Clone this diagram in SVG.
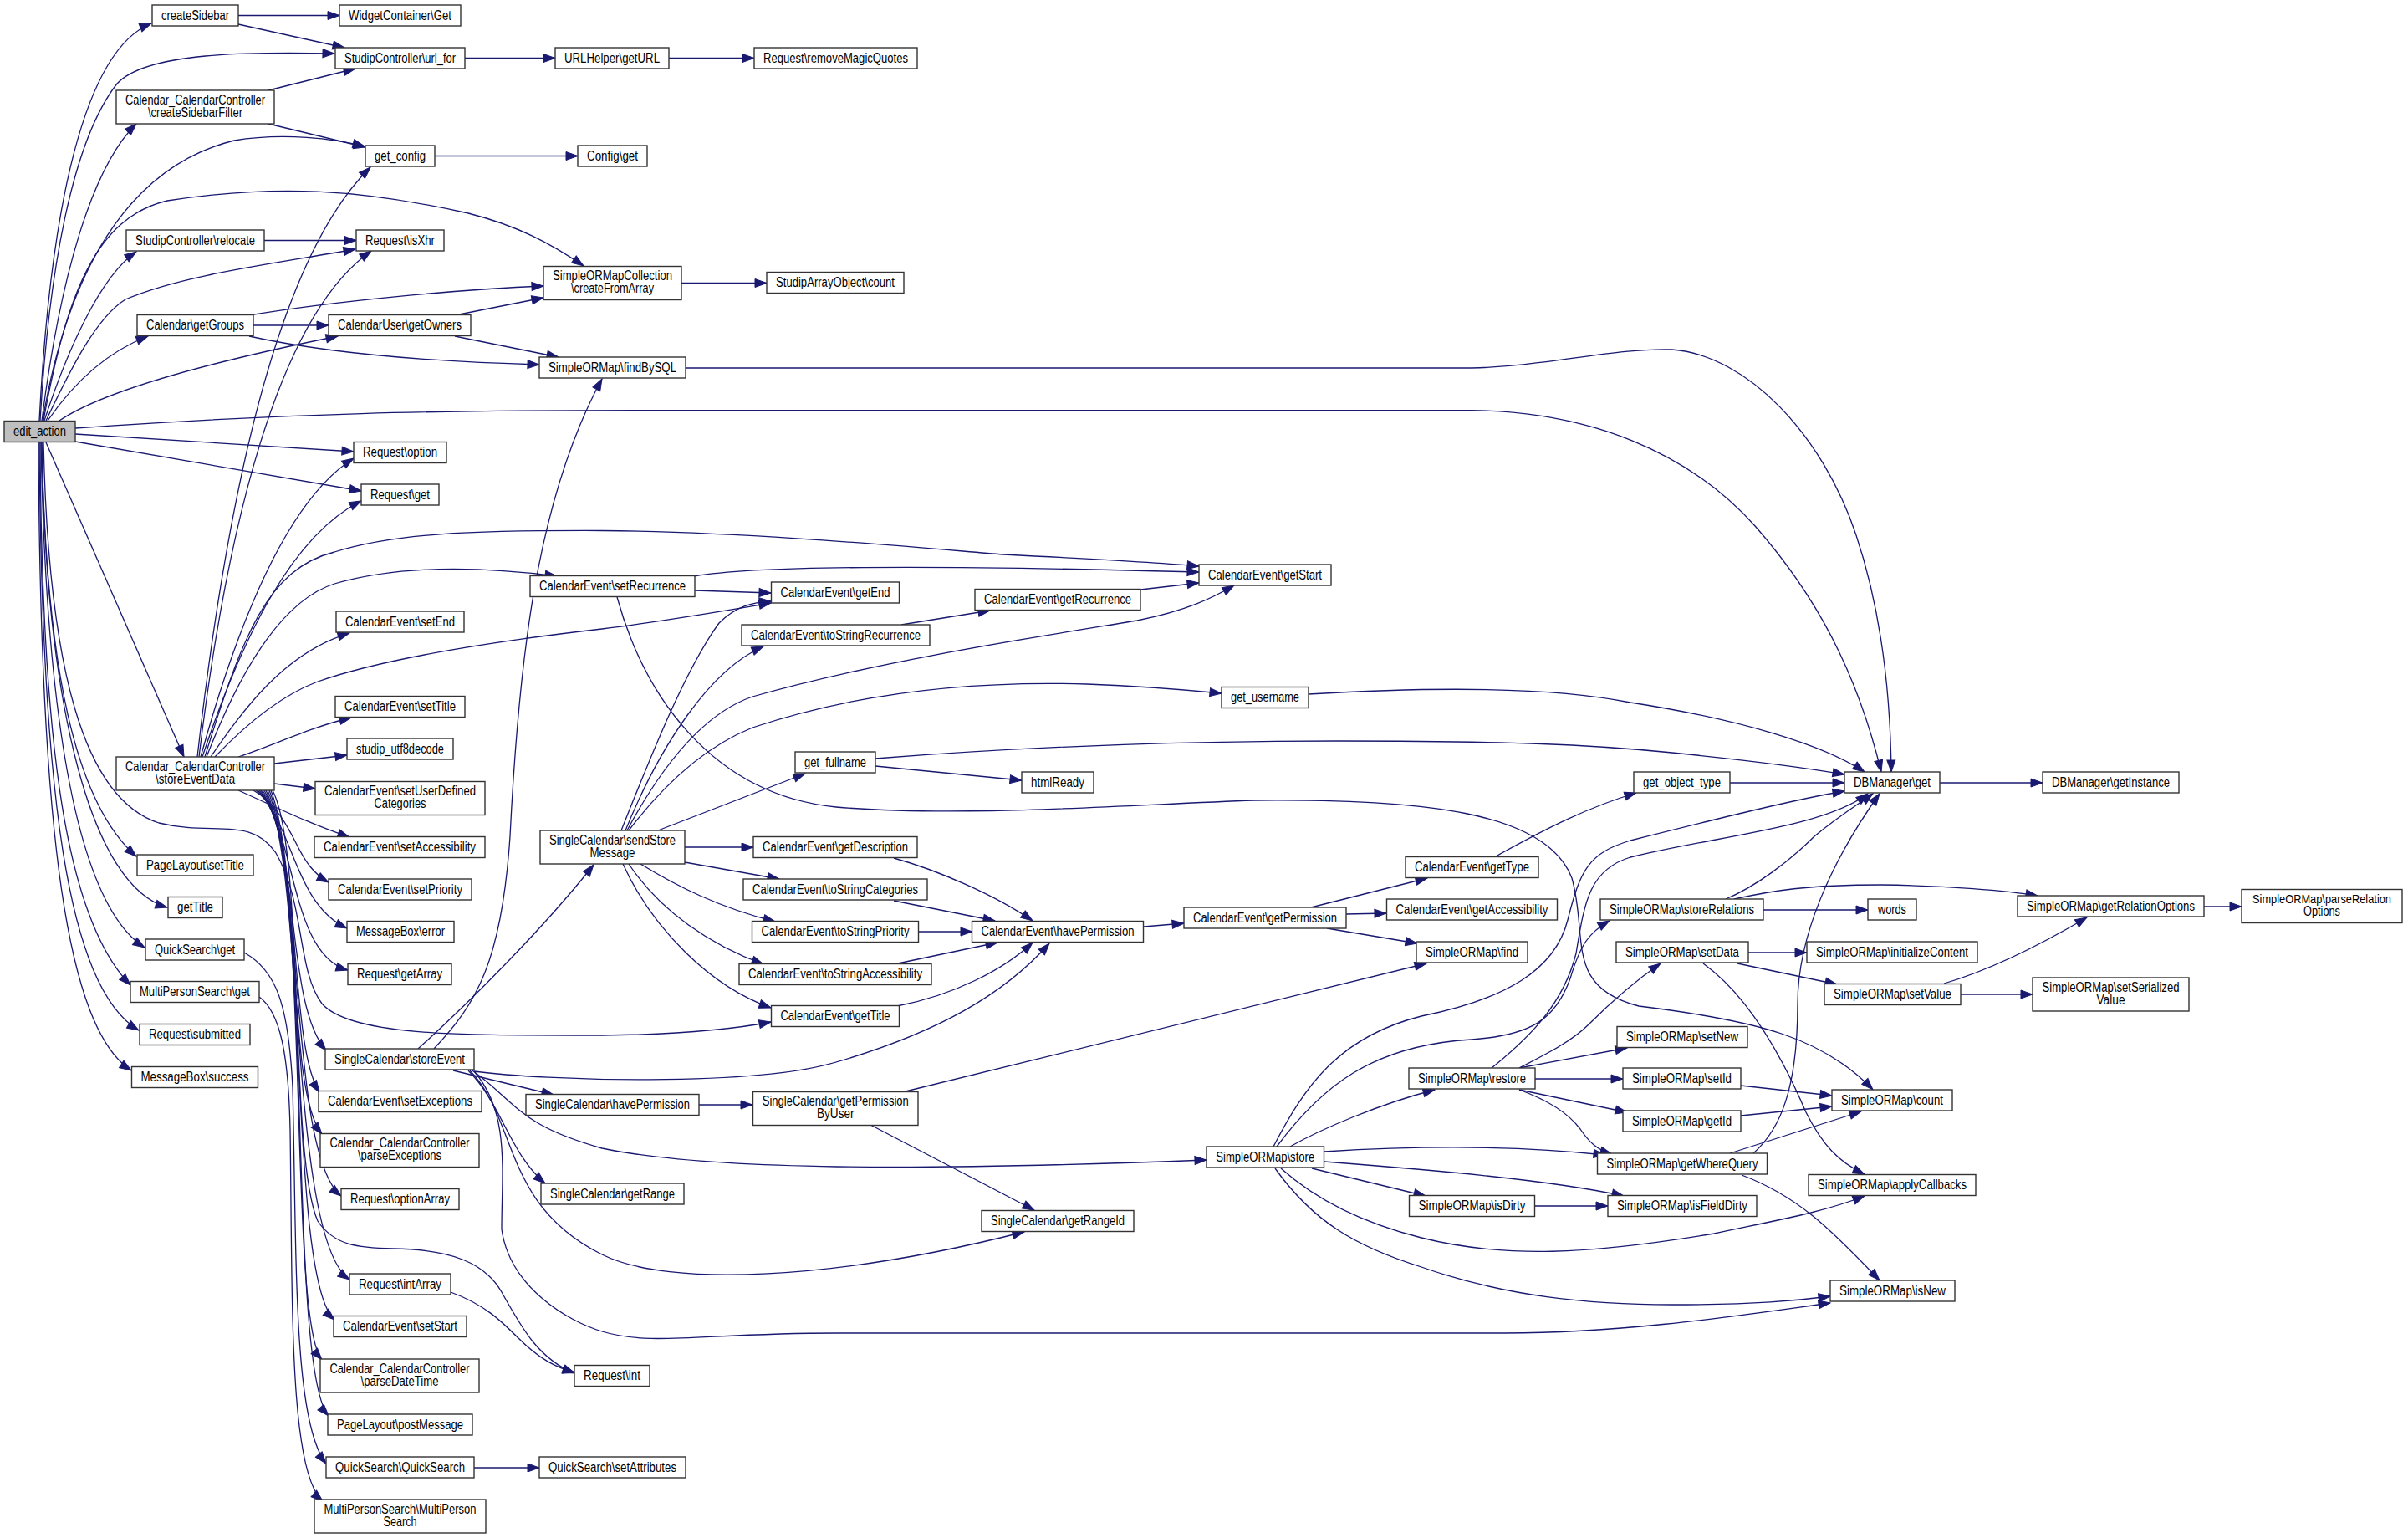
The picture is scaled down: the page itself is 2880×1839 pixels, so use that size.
<svg xmlns="http://www.w3.org/2000/svg" width="2880" height="1839" viewBox="0 0 2880 1839">
<defs>
<marker id="arr" markerUnits="userSpaceOnUse" markerWidth="15" markerHeight="11" refX="14" refY="5" orient="auto" style="overflow:visible"><path d="M0,0 L14,5 L0,10 z" fill="#191970" stroke="#191970" stroke-width="1"/></marker>
<style>
.node rect{fill:#fff;stroke:#333;stroke-width:1.4}
.node.main rect{fill:#bfbfbf}
.node text{font-family:"Liberation Sans",Arial,Helvetica,sans-serif;font-size:16px;fill:#000;text-anchor:middle}
.node text.sm{font-size:14.5px}
#edges path{fill:none;stroke:#191970;stroke-width:1.3;marker-end:url(#arr)}
</style>
</defs>
<rect width="2880" height="1839" fill="#fff"/>
<g id="edges">
<path d="M47,503 C60,250 100,60 181,28"/>
<path d="M48,503 C58,330 85,170 140,100 C175,62 300,62 400,64"/>
<path d="M50,503 C72,330 110,200 163,148"/>
<path d="M51,503 C80,330 150,200 280,168 C340,158 400,166 436,175"/>
<path d="M52,503 C80,350 115,260 200,240 C330,220 430,226 560,255 C620,270 660,292 698,318"/>
<path d="M53,503 C80,420 120,330 163,301"/>
<path d="M55,503 C85,440 115,380 150,358 C220,328 330,315 425,298"/>
<path d="M57,503 C90,455 130,420 177,402"/>
<path d="M71,503 C120,470 240,435 404,402"/>
<path d="M90,512 C350,494 520,490.6 760,490.6 L1760,490.6 C1900,492 2020,540 2100,630 C2170,710 2220,800 2250,923"/>
<path d="M90,519 L423,540"/>
<path d="M90,528 L432,587"/>
<path d="M55,529 L220,905"/>
<path d="M50,529 C55,800 90,960 163,1024"/>
<path d="M50,529 C55,850 110,1060 200,1085"/>
<path d="M49,529 C55,850 90,1080 173,1133"/>
<path d="M48,529 C50,900 80,1100 156,1178"/>
<path d="M47,529 C50,950 80,1180 166,1232"/>
<path d="M46,529 C48,1000 80,1230 157,1280"/>
<path d="M52,529 C58,800 100,955 190,984 C255,1000 300,975 330,1020 C365,1080 355,1160 385,1200 C420,1240 560,1238 720,1238 C800,1237 870,1232 922,1222"/>
<path d="M285,18.5 L406,18.5"/>
<path d="M285,29 L412,57"/>
<path d="M321,108 L425,82"/>
<path d="M321,148 L437,176"/>
<path d="M556,69.5 L664,69.5"/>
<path d="M800,69.5 L902,69.5"/>
<path d="M520,186.5 L691,186.5"/>
<path d="M316,287.5 L426,287.5"/>
<path d="M298,377 C400,360 550,346 650,342"/>
<path d="M303,389 L393,389"/>
<path d="M298,402 C380,420 500,432 645,436"/>
<path d="M544,377 L650,356"/>
<path d="M544,402 L668,427"/>
<path d="M815,338.5 L917,338.5"/>
<path d="M820,440 L1760,440 C1850,438 1930,416 2000,418 C2090,425 2180,520 2220,640 C2250,730 2261,830 2262,923"/>
<path d="M236,905 C265,650 320,320 443,200"/>
<path d="M238,905 C270,640 330,380 444,300"/>
<path d="M240,905 C280,760 340,600 423,548"/>
<path d="M242,905 C290,760 350,640 432,599"/>
<path d="M245,905 C290,760 320,680 400,660 C470,638 560,634 720,634.5 C900,636 1100,655 1200,663 C1300,668 1380,672 1434,677"/>
<path d="M247,905 C280,820 330,720 400,698 C480,675 580,678 666,689"/>
<path d="M257,905 C300,860 340,830 380,815 C480,780 650,760 720,752 C800,742 880,728 922,721"/>
<path d="M252,905 C290,850 340,780 418,757"/>
<path d="M285,905 C330,890 370,870 420,858"/>
<path d="M328,913 L415,903"/>
<path d="M328,937 L377,943"/>
<path d="M285,945 C330,965 370,985 418,1001"/>
<path d="M303,945 C330,960 345,990 355,1010 C365,1030 375,1045 393,1055"/>
<path d="M306,945 C350,980 350,1080 415,1110"/>
<path d="M308,945 C355,990 345,1140 416,1160"/>
<path d="M310,945 C360,1000 340,1200 390,1256"/>
<path d="M312,945 C362,1010 345,1250 382,1306"/>
<path d="M314,945 C365,1020 340,1300 385,1356"/>
<path d="M316,945 C365,1030 345,1380 408,1430"/>
<path d="M318,945 C365,1040 345,1480 418,1530"/>
<path d="M320,945 C368,1050 345,1530 400,1578"/>
<path d="M322,945 C370,1060 345,1580 385,1626"/>
<path d="M324,945 C372,1070 345,1640 393,1693"/>
<path d="M326,945 C365,1020 345,1380 380,1460 C400,1490 430,1492 470,1493 C540,1494 580,1510 600,1545 C625,1590 645,1625 687,1642"/>
<path d="M292,1139 C330,1160 345,1200 350,1300 C355,1500 350,1700 390,1750"/>
<path d="M310,1192 C335,1210 345,1260 347,1350 C350,1550 345,1760 386,1795"/>
<path d="M567,1755 L645,1755"/>
<path d="M539,1545 C580,1560 600,1580 620,1600 C645,1625 665,1635 687,1641"/>
<path d="M500,1254 C560,1200 650,1110 710,1034"/>
<path d="M519,1254 C570,1200 600,1150 610,1000 C620,800 640,600 720,453"/>
<path d="M567,1281 C650,1292 900,1300 1000,1270 C1120,1235 1200,1190 1255,1128"/>
<path d="M542,1280 L662,1309"/>
<path d="M560,1280 C600,1320 610,1380 652,1415"/>
<path d="M562,1280 C620,1340 600,1440 720,1500 C800,1540 1000,1530 1225,1473"/>
<path d="M565,1280 C620,1320 620,1345 720,1373 C850,1400 1100,1400 1443,1387"/>
<path d="M567,1281 C610,1330 600,1400 600,1470 C610,1540 680,1580 720,1592 C780,1610 840,1594 1000,1594 L1800,1594 C1950,1594 2100,1570 2189,1558"/>
<path d="M836,1321 L900,1321"/>
<path d="M1041,1345 L1237,1447"/>
<path d="M1083,1305 L1706,1152"/>
<path d="M743,993 C780,900 820,800 860,745 C880,725 900,720 922,719"/>
<path d="M748,993 C790,890 850,800 913,773"/>
<path d="M750,993 C800,900 850,850 900,833 C1050,790 1250,760 1360,742 C1420,730 1450,715 1476,700"/>
<path d="M752,993 C800,930 850,890 900,870 C1050,820 1200,815 1300,818 C1380,821 1420,825 1461,829"/>
<path d="M787,993 L963,925"/>
<path d="M819,1013 L901,1013"/>
<path d="M819,1031 L932,1051"/>
<path d="M766,1033 C810,1060 860,1085 927,1102"/>
<path d="M752,1033 C790,1090 850,1130 913,1153"/>
<path d="M745,1033 C780,1110 850,1180 922,1205"/>
<path d="M831,706 L922,709"/>
<path d="M830,689 C900,677 1100,675 1434,684"/>
<path d="M738,714 C770,830 850,950 1000,965 C1150,978 1350,962 1500,957 C1700,955 1850,970 1880,1050 C1900,1120 1870,1180 1960,1203 C2100,1220 2180,1240 2240,1303"/>
<path d="M1078,747 L1184,730"/>
<path d="M1364,705 L1434,697"/>
<path d="M1047,907 C1200,895 1400,886 1600,886 C1800,886 1900,890 2000,900 C2100,910 2160,918 2206,926"/>
<path d="M1047,916 L1222,933"/>
<path d="M1565,830 C1700,822 1850,820 1950,840 C2080,860 2180,890 2230,923"/>
<path d="M1069,1026 C1120,1040 1190,1070 1235,1101"/>
<path d="M1069,1077 L1190,1101"/>
<path d="M1099,1114 L1163,1114"/>
<path d="M1069,1153 L1193,1127"/>
<path d="M1073,1203 C1140,1190 1200,1160 1235,1127"/>
<path d="M1368,1108 L1416,1104"/>
<path d="M1568,1085 L1707,1050"/>
<path d="M1610,1093 L1658,1092"/>
<path d="M1587,1110 L1695,1128"/>
<path d="M1789,1024 C1850,990 1900,965 1957,948"/>
<path d="M2069,936 L2206,936"/>
<path d="M2320,936 L2443,936"/>
<path d="M1543,1371 C1580,1350 1650,1320 1716,1303"/>
<path d="M1584,1377 C1680,1371 1800,1368 1920,1381"/>
<path d="M1584,1389 C1700,1398 1850,1410 1942,1430"/>
<path d="M1569,1397 L1705,1430"/>
<path d="M1532,1397 C1580,1440 1640,1465 1700,1480 C1800,1505 1900,1500 2050,1475 C2120,1460 2180,1450 2230,1430"/>
<path d="M1525,1397 C1570,1460 1620,1490 1700,1515 C1800,1550 1900,1560 2000,1560 C2100,1560 2150,1555 2189,1550"/>
<path d="M1523,1371 C1560,1300 1600,1240 1700,1215 C1800,1195 1860,1160 1875,1100 C1890,1040 1900,1020 1950,1005 C2050,980 2150,955 2206,946"/>
<path d="M1527,1371 C1580,1300 1640,1250 1760,1243 C1830,1238 1860,1220 1878,1170 C1890,1130 1900,1115 1925,1101"/>
<path d="M1817,1277 L1946,1253"/>
<path d="M1836,1290 L1941,1290"/>
<path d="M1817,1303 L1946,1330"/>
<path d="M1817,1303 C1850,1315 1875,1330 1890,1350 C1900,1365 1910,1375 1928,1380"/>
<path d="M1817,1277 C1850,1260 1880,1245 1900,1225 C1930,1195 1960,1170 1986,1152"/>
<path d="M1784,1277 C1830,1240 1870,1200 1885,1140 C1895,1080 1900,1040 1950,1025 C2050,1000 2180,990 2234,949"/>
<path d="M2064,1075 C2100,1060 2140,1030 2170,1000 C2200,975 2225,960 2240,949"/>
<path d="M2109,1088 L2234,1088"/>
<path d="M2074,1075 C2120,1065 2160,1058 2250,1058 C2330,1059 2400,1065 2437,1071"/>
<path d="M2091,1139 L2161,1139"/>
<path d="M2078,1152 L2197,1177"/>
<path d="M2037,1152 C2090,1190 2130,1260 2160,1330 C2180,1370 2200,1390 2230,1404"/>
<path d="M2325,1176 C2380,1160 2440,1130 2496,1097"/>
<path d="M2345,1189 L2431,1189"/>
<path d="M2636,1084 L2681,1084"/>
<path d="M2082,1298 L2191,1310"/>
<path d="M2082,1334 L2191,1323"/>
<path d="M2069,1379 L2226,1329"/>
<path d="M2097,1379 C2130,1350 2150,1300 2150,1200 C2150,1120 2190,1030 2248,949"/>
<path d="M2083,1405 C2150,1430 2190,1470 2248,1531"/>
<path d="M1835,1442 L1923,1442"/>
</g>
<g id="n1" class="node main"><rect x="5" y="503.5" width="85" height="25"/><text x="47.5" y="521" textLength="63" lengthAdjust="spacingAndGlyphs">edit_action</text></g>
<g id="n2" class="node"><rect x="182" y="6" width="103" height="25"/><text x="233.5" y="23.5" textLength="81" lengthAdjust="spacingAndGlyphs">createSidebar</text></g>
<g id="n3" class="node"><rect x="406" y="6" width="145" height="25"/><text x="478.5" y="23.5" textLength="123" lengthAdjust="spacingAndGlyphs">WidgetContainer\Get</text></g>
<g id="n4" class="node"><rect x="401" y="57" width="155" height="25"/><text x="478.5" y="74.5" textLength="133" lengthAdjust="spacingAndGlyphs">StudipController\url_for</text></g>
<g id="n5" class="node"><rect x="664" y="57" width="136" height="25"/><text x="732" y="74.5" textLength="114" lengthAdjust="spacingAndGlyphs">URLHelper\getURL</text></g>
<g id="n6" class="node"><rect x="902" y="57" width="195" height="25"/><text x="999.5" y="74.5" textLength="173" lengthAdjust="spacingAndGlyphs">Request\removeMagicQuotes</text></g>
<g id="n7" class="node"><rect x="139" y="108" width="189" height="40"/><text x="233.5" y="124.8" textLength="167" lengthAdjust="spacingAndGlyphs">Calendar_CalendarController</text><text x="233.5" y="139.7" textLength="113" lengthAdjust="spacingAndGlyphs">\createSidebarFilter</text></g>
<g id="n8" class="node"><rect x="437" y="174" width="83" height="25"/><text x="478.5" y="191.5" textLength="61" lengthAdjust="spacingAndGlyphs">get_config</text></g>
<g id="n9" class="node"><rect x="691" y="174" width="83" height="25"/><text x="732.5" y="191.5" textLength="61" lengthAdjust="spacingAndGlyphs">Config\get</text></g>
<g id="n10" class="node"><rect x="151" y="275" width="165" height="25"/><text x="233.5" y="292.5" textLength="143" lengthAdjust="spacingAndGlyphs">StudipController\relocate</text></g>
<g id="n11" class="node"><rect x="426" y="275" width="105" height="25"/><text x="478.5" y="292.5" textLength="83" lengthAdjust="spacingAndGlyphs">Request\isXhr</text></g>
<g id="n12" class="node"><rect x="650" y="318.5" width="165" height="40"/><text x="732.5" y="335.3" textLength="143" lengthAdjust="spacingAndGlyphs">SimpleORMapCollection</text><text x="732.5" y="350.2" textLength="99" lengthAdjust="spacingAndGlyphs">\createFromArray</text></g>
<g id="n13" class="node"><rect x="917" y="325.5" width="164" height="25"/><text x="999" y="343" textLength="142" lengthAdjust="spacingAndGlyphs">StudipArrayObject\count</text></g>
<g id="n14" class="node"><rect x="164" y="376.5" width="139" height="25"/><text x="233.5" y="394" textLength="117" lengthAdjust="spacingAndGlyphs">Calendar\getGroups</text></g>
<g id="n15" class="node"><rect x="393" y="376.5" width="170" height="25"/><text x="478" y="394" textLength="148" lengthAdjust="spacingAndGlyphs">CalendarUser\getOwners</text></g>
<g id="n16" class="node"><rect x="645" y="427" width="175" height="25"/><text x="732.5" y="444.5" textLength="153" lengthAdjust="spacingAndGlyphs">SimpleORMap\findBySQL</text></g>
<g id="n17" class="node"><rect x="423" y="528.5" width="111" height="25"/><text x="478.5" y="546" textLength="89" lengthAdjust="spacingAndGlyphs">Request\option</text></g>
<g id="n18" class="node"><rect x="432" y="579" width="93" height="25"/><text x="478.5" y="596.5" textLength="71" lengthAdjust="spacingAndGlyphs">Request\get</text></g>
<g id="n19" class="node"><rect x="634" y="688.5" width="197" height="25"/><text x="732.5" y="706" textLength="175" lengthAdjust="spacingAndGlyphs">CalendarEvent\setRecurrence</text></g>
<g id="n20" class="node"><rect x="922.5" y="696" width="153" height="25"/><text x="999" y="713.5" textLength="131" lengthAdjust="spacingAndGlyphs">CalendarEvent\getEnd</text></g>
<g id="n21" class="node"><rect x="1166" y="704.5" width="198" height="25"/><text x="1265" y="722" textLength="176" lengthAdjust="spacingAndGlyphs">CalendarEvent\getRecurrence</text></g>
<g id="n22" class="node"><rect x="1434" y="675" width="158" height="25"/><text x="1513" y="692.5" textLength="136" lengthAdjust="spacingAndGlyphs">CalendarEvent\getStart</text></g>
<g id="n23" class="node"><rect x="402" y="731" width="153" height="25"/><text x="478.5" y="748.5" textLength="131" lengthAdjust="spacingAndGlyphs">CalendarEvent\setEnd</text></g>
<g id="n24" class="node"><rect x="887" y="747" width="225" height="25"/><text x="999.5" y="764.5" textLength="203" lengthAdjust="spacingAndGlyphs">CalendarEvent\toStringRecurrence</text></g>
<g id="n25" class="node"><rect x="1461" y="821.5" width="104" height="25"/><text x="1513" y="839" textLength="82" lengthAdjust="spacingAndGlyphs">get_username</text></g>
<g id="n26" class="node"><rect x="401" y="832.5" width="155" height="25"/><text x="478.5" y="850" textLength="133" lengthAdjust="spacingAndGlyphs">CalendarEvent\setTitle</text></g>
<g id="n27" class="node"><rect x="415" y="883" width="127" height="25"/><text x="478.5" y="900.5" textLength="105" lengthAdjust="spacingAndGlyphs">studip_utf8decode</text></g>
<g id="n28" class="node"><rect x="951" y="899" width="96" height="25"/><text x="999" y="916.5" textLength="74" lengthAdjust="spacingAndGlyphs">get_fullname</text></g>
<g id="n29" class="node"><rect x="139" y="905" width="189" height="40"/><text x="233.5" y="921.8" textLength="167" lengthAdjust="spacingAndGlyphs">Calendar_CalendarController</text><text x="233.5" y="936.7" textLength="95" lengthAdjust="spacingAndGlyphs">\storeEventData</text></g>
<g id="n30" class="node"><rect x="2206" y="923" width="114" height="25"/><text x="2263" y="940.5" textLength="92" lengthAdjust="spacingAndGlyphs">DBManager\get</text></g>
<g id="n31" class="node"><rect x="2443" y="923" width="163" height="25"/><text x="2524.5" y="940.5" textLength="141" lengthAdjust="spacingAndGlyphs">DBManager\getInstance</text></g>
<g id="n32" class="node"><rect x="1222" y="923" width="86" height="25"/><text x="1265" y="940.5" textLength="64" lengthAdjust="spacingAndGlyphs">htmlReady</text></g>
<g id="n33" class="node"><rect x="1954" y="923" width="115" height="25"/><text x="2011.5" y="940.5" textLength="93" lengthAdjust="spacingAndGlyphs">get_object_type</text></g>
<g id="n34" class="node"><rect x="377" y="934.5" width="203" height="40"/><text x="478.5" y="951.3" textLength="181" lengthAdjust="spacingAndGlyphs">CalendarEvent\setUserDefined</text><text x="478.5" y="966.2" textLength="62" lengthAdjust="spacingAndGlyphs">Categories</text></g>
<g id="n35" class="node"><rect x="646" y="993" width="173" height="40"/><text x="732.5" y="1009.8" textLength="151" lengthAdjust="spacingAndGlyphs">SingleCalendar\sendStore</text><text x="732.5" y="1024.7" textLength="54" lengthAdjust="spacingAndGlyphs">Message</text></g>
<g id="n36" class="node"><rect x="901" y="1000.5" width="196" height="25"/><text x="999" y="1018" textLength="174" lengthAdjust="spacingAndGlyphs">CalendarEvent\getDescription</text></g>
<g id="n37" class="node"><rect x="376" y="1000.5" width="204" height="25"/><text x="478" y="1018" textLength="182" lengthAdjust="spacingAndGlyphs">CalendarEvent\setAccessibility</text></g>
<g id="n38" class="node"><rect x="164" y="1022" width="139" height="25"/><text x="233.5" y="1039.5" textLength="117" lengthAdjust="spacingAndGlyphs">PageLayout\setTitle</text></g>
<g id="n39" class="node"><rect x="1681" y="1024.5" width="159" height="25"/><text x="1760.5" y="1042" textLength="137" lengthAdjust="spacingAndGlyphs">CalendarEvent\getType</text></g>
<g id="n40" class="node"><rect x="889" y="1051" width="220" height="25"/><text x="999" y="1068.5" textLength="198" lengthAdjust="spacingAndGlyphs">CalendarEvent\toStringCategories</text></g>
<g id="n41" class="node"><rect x="393" y="1051" width="171" height="25"/><text x="478.5" y="1068.5" textLength="149" lengthAdjust="spacingAndGlyphs">CalendarEvent\setPriority</text></g>
<g id="n42" class="node"><rect x="2413" y="1071" width="223" height="25"/><text x="2524.5" y="1088.5" textLength="201" lengthAdjust="spacingAndGlyphs">SimpleORMap\getRelationOptions</text></g>
<g id="n43" class="node"><rect x="2681" y="1063.5" width="192" height="40"/><text class="sm" x="2777" y="1080.3" textLength="166" lengthAdjust="spacingAndGlyphs">SimpleORMap\parseRelation</text><text x="2777" y="1095.2" textLength="44" lengthAdjust="spacingAndGlyphs">Options</text></g>
<g id="n44" class="node"><rect x="201" y="1072.5" width="65" height="25"/><text x="233.5" y="1090" textLength="43" lengthAdjust="spacingAndGlyphs">getTitle</text></g>
<g id="n45" class="node"><rect x="1658.5" y="1075" width="204" height="25"/><text x="1760.5" y="1092.5" textLength="182" lengthAdjust="spacingAndGlyphs">CalendarEvent\getAccessibility</text></g>
<g id="n46" class="node"><rect x="1914" y="1075" width="195" height="25"/><text x="2011.5" y="1092.5" textLength="173" lengthAdjust="spacingAndGlyphs">SimpleORMap\storeRelations</text></g>
<g id="n47" class="node"><rect x="2234" y="1075" width="58" height="25"/><text x="2263" y="1092.5" textLength="34" lengthAdjust="spacingAndGlyphs">words</text></g>
<g id="n48" class="node"><rect x="1416" y="1085" width="194" height="25"/><text x="1513" y="1102.5" textLength="172" lengthAdjust="spacingAndGlyphs">CalendarEvent\getPermission</text></g>
<g id="n49" class="node"><rect x="899.5" y="1101.5" width="199" height="25"/><text x="999" y="1119" textLength="177" lengthAdjust="spacingAndGlyphs">CalendarEvent\toStringPriority</text></g>
<g id="n50" class="node"><rect x="1162.5" y="1101.5" width="205" height="25"/><text x="1265" y="1119" textLength="183" lengthAdjust="spacingAndGlyphs">CalendarEvent\havePermission</text></g>
<g id="n51" class="node"><rect x="415" y="1101.5" width="128" height="25"/><text x="479" y="1119" textLength="106" lengthAdjust="spacingAndGlyphs">MessageBox\error</text></g>
<g id="n52" class="node"><rect x="174" y="1123" width="118" height="25"/><text x="233" y="1140.5" textLength="96" lengthAdjust="spacingAndGlyphs">QuickSearch\get</text></g>
<g id="n53" class="node"><rect x="1694" y="1126" width="133" height="25"/><text x="1760.5" y="1143.5" textLength="111" lengthAdjust="spacingAndGlyphs">SimpleORMap\find</text></g>
<g id="n54" class="node"><rect x="1933" y="1126" width="158" height="25"/><text x="2012" y="1143.5" textLength="136" lengthAdjust="spacingAndGlyphs">SimpleORMap\setData</text></g>
<g id="n55" class="node"><rect x="2161" y="1126" width="204" height="25"/><text x="2263" y="1143.5" textLength="182" lengthAdjust="spacingAndGlyphs">SimpleORMap\initializeContent</text></g>
<g id="n56" class="node"><rect x="416" y="1152.5" width="124" height="25"/><text x="478" y="1170" textLength="102" lengthAdjust="spacingAndGlyphs">Request\getArray</text></g>
<g id="n57" class="node"><rect x="884" y="1152.5" width="230" height="25"/><text x="999" y="1170" textLength="208" lengthAdjust="spacingAndGlyphs">CalendarEvent\toStringAccessibility</text></g>
<g id="n58" class="node"><rect x="2431" y="1169" width="187" height="40"/><text x="2524.5" y="1185.8" textLength="164" lengthAdjust="spacingAndGlyphs">SimpleORMap\setSerialized</text><text x="2524.5" y="1200.7" textLength="34" lengthAdjust="spacingAndGlyphs">Value</text></g>
<g id="n59" class="node"><rect x="156" y="1173.5" width="154" height="25"/><text x="233" y="1191" textLength="132" lengthAdjust="spacingAndGlyphs">MultiPersonSearch\get</text></g>
<g id="n60" class="node"><rect x="2182" y="1176.5" width="163" height="25"/><text x="2263.5" y="1194" textLength="141" lengthAdjust="spacingAndGlyphs">SimpleORMap\setValue</text></g>
<g id="n61" class="node"><rect x="922.5" y="1202.5" width="153" height="25"/><text x="999" y="1220" textLength="131" lengthAdjust="spacingAndGlyphs">CalendarEvent\getTitle</text></g>
<g id="n62" class="node"><rect x="167" y="1224.5" width="132" height="25"/><text x="233" y="1242" textLength="110" lengthAdjust="spacingAndGlyphs">Request\submitted</text></g>
<g id="n63" class="node"><rect x="1934" y="1227.5" width="156" height="25"/><text x="2012" y="1245" textLength="134" lengthAdjust="spacingAndGlyphs">SimpleORMap\setNew</text></g>
<g id="n64" class="node"><rect x="389" y="1254" width="178" height="25"/><text x="478" y="1271.5" textLength="156" lengthAdjust="spacingAndGlyphs">SingleCalendar\storeEvent</text></g>
<g id="n65" class="node"><rect x="157.5" y="1275.5" width="151" height="25"/><text x="233" y="1293" textLength="129" lengthAdjust="spacingAndGlyphs">MessageBox\success</text></g>
<g id="n66" class="node"><rect x="1685" y="1277" width="151" height="25"/><text x="1760.5" y="1294.5" textLength="129" lengthAdjust="spacingAndGlyphs">SimpleORMap\restore</text></g>
<g id="n67" class="node"><rect x="1941" y="1277" width="141" height="25"/><text x="2011.5" y="1294.5" textLength="119" lengthAdjust="spacingAndGlyphs">SimpleORMap\setId</text></g>
<g id="n68" class="node"><rect x="2191" y="1303" width="144" height="25"/><text x="2263" y="1320.5" textLength="122" lengthAdjust="spacingAndGlyphs">SimpleORMap\count</text></g>
<g id="n69" class="node"><rect x="381" y="1304.5" width="195" height="25"/><text x="478.5" y="1322" textLength="173" lengthAdjust="spacingAndGlyphs">CalendarEvent\setExceptions</text></g>
<g id="n70" class="node"><rect x="629" y="1308.5" width="207" height="25"/><text x="732.5" y="1326" textLength="185" lengthAdjust="spacingAndGlyphs">SingleCalendar\havePermission</text></g>
<g id="n71" class="node"><rect x="900.5" y="1305.5" width="197.5" height="40"/><text x="999.25" y="1322.3" textLength="175" lengthAdjust="spacingAndGlyphs">SingleCalendar\getPermission</text><text x="999.25" y="1337.2" textLength="44.5" lengthAdjust="spacingAndGlyphs">ByUser</text></g>
<g id="n72" class="node"><rect x="1941" y="1328" width="141" height="25"/><text x="2011.5" y="1345.5" textLength="119" lengthAdjust="spacingAndGlyphs">SimpleORMap\getId</text></g>
<g id="n73" class="node"><rect x="383" y="1355.5" width="190" height="40"/><text x="478" y="1372.3" textLength="167" lengthAdjust="spacingAndGlyphs">Calendar_CalendarController</text><text x="478" y="1387.2" textLength="100" lengthAdjust="spacingAndGlyphs">\parseExceptions</text></g>
<g id="n74" class="node"><rect x="1443" y="1371" width="140.5" height="25"/><text x="1513.25" y="1388.5" textLength="118" lengthAdjust="spacingAndGlyphs">SimpleORMap\store</text></g>
<g id="n75" class="node"><rect x="1910.5" y="1379" width="203" height="25"/><text x="2012" y="1396.5" textLength="181" lengthAdjust="spacingAndGlyphs">SimpleORMap\getWhereQuery</text></g>
<g id="n76" class="node"><rect x="2163" y="1404.5" width="200" height="25"/><text x="2263" y="1422" textLength="178" lengthAdjust="spacingAndGlyphs">SimpleORMap\applyCallbacks</text></g>
<g id="n77" class="node"><rect x="647" y="1415" width="171" height="25"/><text x="732.5" y="1432.5" textLength="149" lengthAdjust="spacingAndGlyphs">SingleCalendar\getRange</text></g>
<g id="n78" class="node"><rect x="408" y="1421.5" width="141" height="25"/><text x="478.5" y="1439" textLength="119" lengthAdjust="spacingAndGlyphs">Request\optionArray</text></g>
<g id="n79" class="node"><rect x="1685.5" y="1429.5" width="150" height="25"/><text x="1760.5" y="1447" textLength="128" lengthAdjust="spacingAndGlyphs">SimpleORMap\isDirty</text></g>
<g id="n80" class="node"><rect x="1923" y="1429.5" width="178" height="25"/><text x="2012" y="1447" textLength="156" lengthAdjust="spacingAndGlyphs">SimpleORMap\isFieldDirty</text></g>
<g id="n81" class="node"><rect x="1174" y="1447.5" width="182" height="25"/><text x="1265" y="1465" textLength="160" lengthAdjust="spacingAndGlyphs">SingleCalendar\getRangeId</text></g>
<g id="n82" class="node"><rect x="418" y="1523" width="121" height="25"/><text x="478.5" y="1540.5" textLength="99" lengthAdjust="spacingAndGlyphs">Request\intArray</text></g>
<g id="n83" class="node"><rect x="2189" y="1531" width="149" height="25"/><text x="2263.5" y="1548.5" textLength="127" lengthAdjust="spacingAndGlyphs">SimpleORMap\isNew</text></g>
<g id="n84" class="node"><rect x="399" y="1573.5" width="159" height="25"/><text x="478.5" y="1591" textLength="137" lengthAdjust="spacingAndGlyphs">CalendarEvent\setStart</text></g>
<g id="n85" class="node"><rect x="687" y="1632.5" width="90" height="25"/><text x="732" y="1650" textLength="68" lengthAdjust="spacingAndGlyphs">Request\int</text></g>
<g id="n86" class="node"><rect x="383" y="1625" width="190" height="40"/><text x="478" y="1641.8" textLength="167" lengthAdjust="spacingAndGlyphs">Calendar_CalendarController</text><text x="478" y="1656.7" textLength="93" lengthAdjust="spacingAndGlyphs">\parseDateTime</text></g>
<g id="n87" class="node"><rect x="392" y="1691" width="173" height="25"/><text x="478.5" y="1708.5" textLength="151" lengthAdjust="spacingAndGlyphs">PageLayout\postMessage</text></g>
<g id="n88" class="node"><rect x="390" y="1742" width="177" height="25"/><text x="478.5" y="1759.5" textLength="155" lengthAdjust="spacingAndGlyphs">QuickSearch\QuickSearch</text></g>
<g id="n89" class="node"><rect x="645" y="1742" width="175" height="25"/><text x="732.5" y="1759.5" textLength="153" lengthAdjust="spacingAndGlyphs">QuickSearch\setAttributes</text></g>
<g id="n90" class="node"><rect x="376" y="1793" width="205" height="40"/><text x="478.5" y="1809.8" textLength="182" lengthAdjust="spacingAndGlyphs">MultiPersonSearch\MultiPerson</text><text x="478.5" y="1824.7" textLength="40" lengthAdjust="spacingAndGlyphs">Search</text></g>
</svg>
